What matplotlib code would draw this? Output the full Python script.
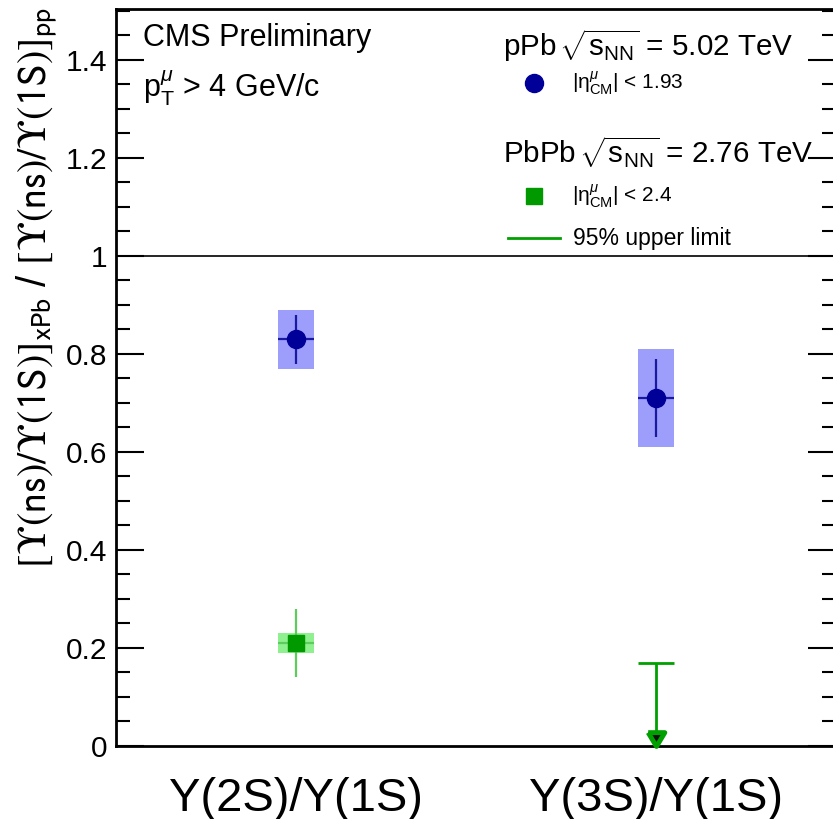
import matplotlib
matplotlib.use("Agg")
import matplotlib.pyplot as plt
from matplotlib.ticker import MultipleLocator

plt.rcParams['font.family'] = ['Liberation Sans', 'DejaVu Sans']
plt.rcParams['mathtext.fontset'] = 'custom'
plt.rcParams['mathtext.rm'] = 'Liberation Sans'
plt.rcParams['mathtext.it'] = 'Liberation Sans:italic'
plt.rcParams['mathtext.bf'] = 'Liberation Sans:bold'

# double ratios, positions 0.5 and 1.5 on the x axis
categories = ["Y(2S)/Y(1S)", "Y(3S)/Y(1S)"]
xpos = [0.5, 1.5]

ppb_val = [0.83, 0.71]
ppb_stat = [0.05, 0.08]
ppb_syst = [0.06, 0.10]

pbpb_val = [0.21]
pbpb_stat = [0.07]
pbpb_syst = [0.02]
pbpb_limit = 0.17      # 95% CL upper limit for Y(3S)/Y(1S)

box_w = 0.1

fig = plt.figure(figsize=(8.33, 8.19), dpi=100)
ax = fig.add_axes([116/833, 73/819, 720/833, 737/819])
ax.set_xlim(0, 2)
ax.set_ylim(0, 1.504)

# pPb points with systematic boxes
ax.bar(xpos, [2*s for s in ppb_syst], bottom=[v - s for v, s in zip(ppb_val, ppb_syst)],
       width=box_w, color='#9d9dfb', edgecolor='none', zorder=2)
ax.errorbar(xpos, ppb_val, yerr=ppb_stat, xerr=box_w/2, fmt='o', color='#000099',
            ecolor='#1a1aa0', elinewidth=1.6, capsize=0, ms=13, zorder=3)

# PbPb point for Y(2S)
ax.bar(xpos[0], 2*pbpb_syst[0], bottom=pbpb_val[0] - pbpb_syst[0], width=box_w,
       color='#8ef08e', edgecolor='none', zorder=2)
ax.errorbar(xpos[0], pbpb_val, yerr=pbpb_stat, xerr=box_w/2, fmt='s', color='#009900',
            ecolor='#5ccc5c', elinewidth=1.6, capsize=0, ms=12, zorder=3)

# PbPb upper limit for Y(3S)
ax.hlines(pbpb_limit, xpos[1] - box_w/2, xpos[1] + box_w/2, color='#00a000', lw=2, zorder=3)
ax.vlines(xpos[1], 0.0, pbpb_limit, color='#00a000', lw=2, zorder=3)
tri = [(-0.6, 1.0), (0.6, 1.0), (0.0, 0.0), (-0.6, 1.0)]
ax.plot(xpos[1], 0.0, marker=tri, ms=20, mfc='#101010', mec='#00a000', mew=3.5,
        zorder=4, clip_on=False)

# reference line at unity
ax.axhline(1.0, color='black', lw=1.2, zorder=1)

# frame and ticks
for s in ax.spines.values():
    s.set_linewidth(2)
ax.yaxis.set_major_locator(MultipleLocator(0.2))
ax.yaxis.set_minor_locator(MultipleLocator(0.05))
ax.tick_params(axis='y', which='both', direction='in', left=True, right=True,
               labelsize=21.5, pad=6)
ax.tick_params(axis='y', which='major', length=20, width=1.5)
ax.tick_params(axis='y', which='minor', length=10, width=1.5)
ax.set_yticks([0, 0.2, 0.4, 0.6, 0.8, 1.0, 1.2, 1.4])
ax.set_yticklabels(['0', '0.2', '0.4', '0.6', '0.8', '1', '1.2', '1.4'])
ax.set_xticks(xpos)
ax.set_xticklabels(categories, fontsize=34)
ax.tick_params(axis='x', length=0, pad=22)

# y title; the hooked upsilon comes from the STIX sans math font
ups = '\u03d2'
ylab = (r'$\left[\mathrm{' + ups + r'(ns)/' + ups + r'(1S)}\right]_{\mathrm{xPb}}$'
        r' / '
        r'$\left[\mathrm{' + ups + r'(ns)/' + ups + r'(1S)}\right]_{\mathrm{pp}}$')
fig.text(37/833, 1 - 8/819, ylab, rotation=90, ha='center', va='top', fontsize=29,
         math_fontfamily='stixsans')

# annotations
ax.text(0.0375, 0.961, 'CMS Preliminary', transform=ax.transAxes, fontsize=22, va='center')
ax.text(0.0375, 0.893, r'$\mathrm{p}_{\mathrm{T}}^{\mu}$ > 4 GeV/c', transform=ax.transAxes,
        fontsize=22, va='center')

# legend
ax.text(0.5375, 0.951, r'pPb$\,\sqrt{\mathrm{s}_{\mathrm{NN}}}$ = 5.02 TeV',
        transform=ax.transAxes, fontsize=21.3, va='center')
ax.plot(0.5806, 0.8996, 'o', color='#000099', ms=13, transform=ax.transAxes)
ax.text(0.633, 0.8996, '$|\\mathrm{\u03b7}^{\\mu}_{\\mathrm{CM}}|$ < 1.93',
        transform=ax.transAxes, fontsize=15, va='center')
ax.text(0.5375, 0.806, r'PbPb$\,\sqrt{\mathrm{s}_{\mathrm{NN}}}$ = 2.76 TeV',
        transform=ax.transAxes, fontsize=21.3, va='center')
ax.plot(0.5806, 0.746, 's', color='#009900', ms=12, transform=ax.transAxes)
ax.text(0.633, 0.746, '$|\\mathrm{\u03b7}^{\\mu}_{\\mathrm{CM}}|$ < 2.4',
        transform=ax.transAxes, fontsize=15, va='center')
ax.plot([0.544, 0.617], [0.689, 0.689], color='#00a000', lw=2, transform=ax.transAxes)
ax.text(0.635, 0.689, '95% upper limit', transform=ax.transAxes, fontsize=16.5, va='center')

fig.savefig('out.png', dpi=100)
